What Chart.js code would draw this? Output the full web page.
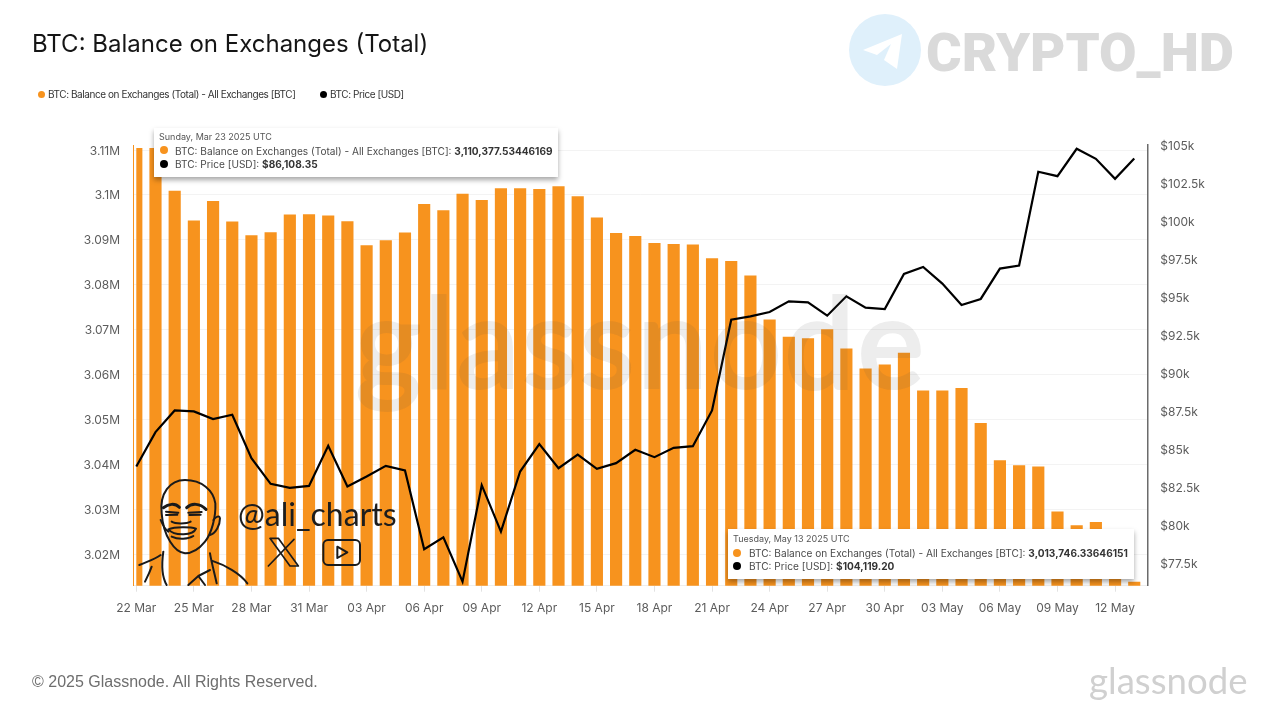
<!DOCTYPE html>
<html>
<head>
<meta charset="utf-8">
<title>BTC: Balance on Exchanges (Total)</title>
<script src="https://cdn.jsdelivr.net/npm/chart.js@4/dist/chart.umd.min.js"></script>
<style>
    html, body { margin: 0; padding: 0; background: #fff; }
    #page { position: relative; width: 1280px; height: 720px; overflow: hidden; font-family: Inter, sans-serif; }
    #page > * { position: absolute; }
    #title { left: 32px; top: 29px; font-size: 24px; line-height: 30px; color: #151515; white-space: nowrap; }
    .legendItem { top: 87px; font-size: 10px; line-height: 14px; color: #333; letter-spacing: -0.43px; white-space: nowrap; }
    .dot { display: inline-block; border-radius: 50%; }
    .legendItem .dot { width: 7px; height: 7px; margin-right: 3px; }
    .tip { background: #fff; box-shadow: 0 3px 5px rgba(0, 0, 0, 0.35); color: #4a4a4a; white-space: nowrap; }
    .tip div { position: absolute; font-size: 10.1px; line-height: 13px; }
    .tip .when { font-size: 9px; color: #555; }
    .tip .dot { position: absolute; width: 8px; height: 8px; }
    .tip b { color: #333; font-weight: 700; }
    #footer { left: 32px; top: 672px; font-family: "Liberation Sans", sans-serif; font-size: 16px; line-height: 20px; color: #6e6e6e; white-space: nowrap; }
    #logo { left: 1089px; top: 657px; font-family: Lato, sans-serif; font-size: 36.6px; line-height: 46px; color: #d0d0d0; white-space: nowrap; }
    #bigMark { left: 356px; top: 264px; font-family: Lato, sans-serif; font-size: 124px; line-height: 150px; color: #505050; opacity: 0.1; -webkit-text-stroke: 4px #505050; letter-spacing: 3.8px; white-space: nowrap; }
    #crypto { left: 926px; top: 21px; font-family: Roboto, sans-serif; font-weight: 900; font-size: 54.4px; line-height: 64px; color: #dadada; white-space: nowrap; }
    #handle { left: 238px; top: 494px; font-family: Lato, sans-serif; font-size: 32px; line-height: 40px; color: #1d1d1d; white-space: nowrap; }
</style>
</head>
<body>
<div id="page">
    <canvas id="chart" width="1280" height="720" style="left:0;top:0"></canvas>

    <div id="bigMark">glassnode</div>

    <div id="title">BTC: Balance on Exchanges (Total)</div>
    <div class="legendItem" style="left:38px"><span class="dot" style="background:#f7931e"></span>BTC: Balance on Exchanges (Total) - All Exchanges [BTC]</div>
    <div class="legendItem" style="left:320px"><span class="dot" style="background:#000"></span>BTC: Price [USD]</div>

    <!-- telegram logo + watermark -->
    <svg style="left:849px;top:14px" width="72" height="72" viewBox="0 0 72 72">
        <circle cx="36" cy="36" r="36" fill="#dff0fb"/>
        <path d="M14 36 L53 20 L48 55 L35 46 L42 30 L28 41 Z" fill="#fff"/>
    </svg>
    <div id="crypto">CRYPTO_HD</div>

    <!-- portrait and icons, drawn in 3x crop units -->
    <svg style="left:130px;top:470px" width="280" height="120" viewBox="0 0 840 360" fill="none" stroke="#1a1a1a" stroke-width="6" stroke-linecap="round" stroke-linejoin="round">
        <path d="M95 130 C88 70 120 30 165 30 C215 30 250 60 256 100 C258 140 245 190 225 215 C205 240 185 250 165 250 C135 248 100 200 95 130 Z"/>
        <path d="M250 150 C258 140 268 135 270 145 C270 165 258 190 240 195"/>
        <path d="M100 113 C115 102 135 98 148 112" stroke-width="9"/>
        <path d="M170 113 C185 98 210 100 228 118" stroke-width="9"/>
        <path d="M108 125 L145 128 M108 135 L142 134 M175 128 L215 126 M178 135 L212 134"/>
        <path d="M125 155 C135 162 170 162 182 155 M92 150 C100 170 108 180 115 185"/>
        <path d="M115 178 C135 170 180 170 198 176 C190 196 135 200 115 178 Z M125 200 C145 210 175 208 190 198"/>
        <path d="M28 285 C50 275 75 268 92 255 M100 245 C95 280 95 320 110 345 M65 290 C58 310 50 325 45 335"/>
        <path d="M240 250 C245 280 255 315 260 340 M245 272 C285 285 330 310 352 340 M175 345 L205 318 L225 345 M240 300 L205 318"/>
        <path d="M420 205 L445 205 L505 288 L480 288 Z M492 208 L415 288" stroke-width="5"/>
        <rect x="580" y="210" width="110" height="75" rx="14"/>
        <path d="M622 230 L652 247 L622 264 Z"/>
    </svg>
    <div id="handle">@ali_charts</div>

    <!-- fixed hover boxes from the source chart -->
    <div class="tip" style="left:154px;top:128px;width:404px;height:49px">
        <div class="when" style="left:5px;top:2px">Sunday, Mar 23 2025 UTC</div>
        <span class="dot" style="left:6px;top:18px;background:#f7931e"></span>
        <div style="left:21px;top:17px">BTC: Balance on Exchanges (Total) - All Exchanges [BTC]: <b>3,110,377.53446169</b></div>
        <span class="dot" style="left:6px;top:32px;background:#000"></span>
        <div style="left:21px;top:30px">BTC: Price [USD]: <b>$86,108.35</b></div>
    </div>
    <div class="tip" style="left:728px;top:529px;width:406px;height:50px">
        <div class="when" style="left:5px;top:3px">Tuesday, May 13 2025 UTC</div>
        <span class="dot" style="left:5px;top:20px;background:#f7931e"></span>
        <div style="left:21px;top:18px">BTC: Balance on Exchanges (Total) - All Exchanges [BTC]: <b>3,013,746.33646151</b></div>
        <span class="dot" style="left:5px;top:33px;background:#000"></span>
        <div style="left:21px;top:31px">BTC: Price [USD]: <b>$104,119.20</b></div>
    </div>

    <div id="footer">© 2025 Glassnode. All Rights Reserved.</div>
    <div id="logo">glassnode</div>
</div>

<script>
// 日付ラベル (3日おきに軸に表示)
const categories = [
    '22 Mar', '23 Mar', '24 Mar', '25 Mar', '26 Mar', '27 Mar', '28 Mar', '29 Mar', '30 Mar', '31 Mar',
    '01 Apr', '02 Apr', '03 Apr', '04 Apr', '05 Apr', '06 Apr', '07 Apr', '08 Apr', '09 Apr', '10 Apr',
    '11 Apr', '12 Apr', '13 Apr', '14 Apr', '15 Apr', '16 Apr', '17 Apr', '18 Apr', '19 Apr', '20 Apr',
    '21 Apr', '22 Apr', '23 Apr', '24 Apr', '25 Apr', '26 Apr', '27 Apr', '28 Apr', '29 Apr', '30 Apr',
    '01 May', '02 May', '03 May', '04 May', '05 May', '06 May', '07 May', '08 May', '09 May', '10 May',
    '11 May', '12 May', '13 May'
];
const balanceValues = [
    3110400, 3110377, 3100873, 3094195, 3098573, 3093973, 3090931, 3091598, 3095531, 3095605,
    3095308, 3094047, 3088705, 3089818, 3091524, 3097905, 3096496, 3100206, 3098796, 3101393,
    3101393, 3101244, 3101838, 3099612, 3094863, 3091450, 3090782, 3089224, 3089001, 3088853,
    3085811, 3085217, 3081952, 3072158, 3068300, 3068003, 3070006, 3065703, 3061251, 3062141,
    3064738, 3056325, 3056325, 3056927, 3049131, 3040802, 3039688, 3039399, 3029376, 3026325,
    3027082, 3021000, 3013746
];
const priceValues = [
    83846, 86108, 87536, 87470, 86965, 87250, 84396, 82705, 82441, 82573,
    85208, 82529, 83188, 83890, 83583, 78400, 79191, 76270, 82617, 79564,
    83517, 85318, 83737, 84637, 83693, 84066, 84944, 84462, 85076, 85186,
    87536, 93508, 93729, 94015, 94717, 94651, 93772, 95046, 94299, 94211,
    96518, 96979, 95881, 94475, 94871, 96869, 97066, 103237, 102951, 104753,
    104094, 102776, 104119
];
const balanceTicks = [3020000, 3030000, 3040000, 3050000, 3060000, 3070000, 3080000, 3090000, 3100000, 3110000];
const priceTicks = [77500, 80000, 82500, 85000, 87500, 90000, 92500, 95000, 97500, 100000, 102500, 105000];

const orange = '#f7931e';
const tickFont = { family: 'Inter, sans-serif', size: 12 };
const tickColor = '#5c5c5c';

const toPoints = (values) => values.map((y, x) => ({ x, y }));

new Chart(document.getElementById('chart'), {
    type: 'bar',
    data: {
        datasets: [
            {
                type: 'line',
                label: 'BTC: Price [USD]',
                data: toPoints(priceValues),
                yAxisID: 'yPrice',
                borderColor: '#000',
                borderWidth: 2.2,
                tension: 0,
                pointRadius: 0,
                order: 0
            },
            {
                label: 'BTC: Balance on Exchanges (Total) - All Exchanges [BTC]',
                data: toPoints(balanceValues),
                yAxisID: 'yBalance',
                backgroundColor: orange,
                barThickness: 11.5,
                // 最初の棒は半分だけ見える
                clip: { left: -3.3, top: 0, right: 0, bottom: 0 },
                order: 1
            }
        ]
    },
    options: {
        responsive: false,
        animation: false,
        layout: { padding: { top: 145, bottom: 94.3, left: 0, right: 0 } },
        plugins: { legend: { display: false }, tooltip: { enabled: false } },
        scales: {
            x: {
                type: 'linear',
                offset: false,
                min: -0.172,
                max: 52.68,
                afterFit: (axis) => { axis.height = 40; },
                afterBuildTicks: (axis) => {
                    axis.ticks = categories.map((c, i) => i).filter((i) => i % 3 === 0).map((value) => ({ value }));
                },
                grid: { offset: false, drawOnChartArea: false, drawTicks: true, tickLength: 6, tickColor: '#e2e2e2' },
                border: { color: '#eeeeee' },
                ticks: {
                    autoSkip: false,
                    maxRotation: 0,
                    padding: 9,
                    color: tickColor,
                    font: tickFont,
                    callback: (v) => categories[v]
                }
            },
            yBalance: {
                position: 'left',
                min: 3012940,
                max: 3111114,
                afterFit: (axis) => { axis.width = 133; },
                afterBuildTicks: (axis) => { axis.ticks = balanceTicks.map((value) => ({ value })); },
                grid: { color: '#f3f3f3', drawTicks: false },
                border: { color: orange, width: 1 },
                ticks: {
                    padding: 13,
                    labelOffset: 1,
                    color: tickColor,
                    font: tickFont,
                    callback: (v) => parseFloat((v / 1e6).toFixed(2)) + 'M'
                }
            },
            yPrice: {
                position: 'right',
                min: 76005,
                max: 105000,
                afterFit: (axis) => { axis.width = 132.7; },
                afterBuildTicks: (axis) => { axis.ticks = priceTicks.map((value) => ({ value })); },
                grid: { drawOnChartArea: false, drawTicks: false },
                border: { color: '#6b6b6b', width: 1.5 },
                ticks: {
                    padding: 13,
                    labelOffset: 1,
                    color: tickColor,
                    font: tickFont,
                    callback: (v) => '$' + v / 1000 + 'k'
                }
            }
        }
    }
});
</script>
</body>
</html>
